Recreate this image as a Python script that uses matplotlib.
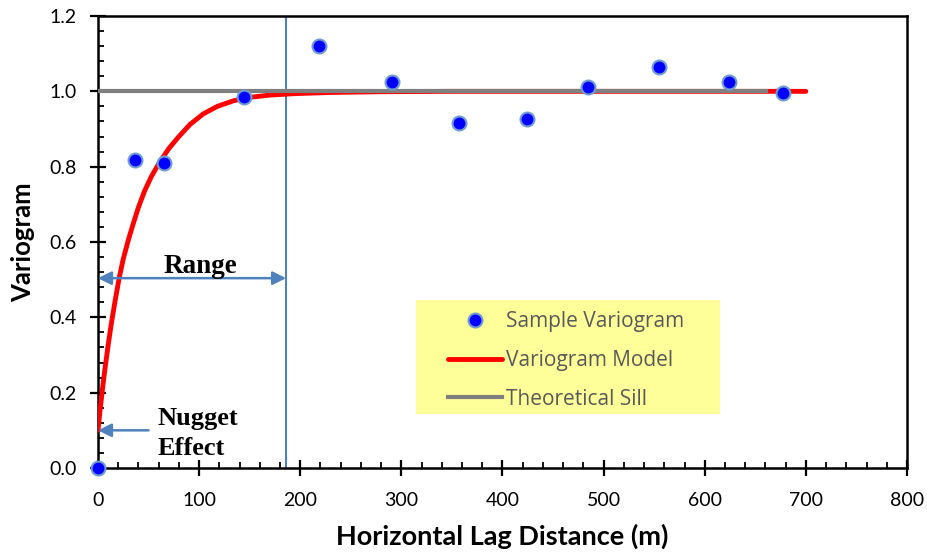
import numpy as np
import matplotlib
matplotlib.use("Agg")
import matplotlib.pyplot as plt
from matplotlib.patches import Rectangle
from matplotlib.ticker import MultipleLocator, FormatStrFormatter

# sample variogram
lag = [0, 36.6, 65.3, 144, 218.6, 290.8, 357, 424, 484.7, 555, 624, 677.5]
gamma = [0.0, 0.818, 0.810, 0.985, 1.120, 1.025, 0.916, 0.926, 1.011, 1.065, 1.025, 0.995]

# fitted model curve
model_x = [0, 2, 4, 7, 10, 13, 17, 21, 25, 30, 35, 40, 46, 53, 61, 70, 80, 91,
           104, 118, 134, 150, 170, 195, 230, 280, 350, 500, 700]
model_y = [0.100, 0.152, 0.200, 0.265, 0.325, 0.380, 0.445, 0.505, 0.555,
           0.605, 0.650, 0.692, 0.735, 0.775, 0.812, 0.848, 0.880, 0.912,
           0.940, 0.960, 0.975, 0.984, 0.990, 0.994, 0.997, 0.999, 1.0, 1.0, 1.0]

sill = 1.0
sill_end = 661
nugget = 0.10
range_x = 186

sans = ["Lato", "DejaVu Sans"]
serif = ["Liberation Serif", "DejaVu Serif"]
arrow_col = "#4f81bd"

fig = plt.figure(figsize=(9.27, 5.52), dpi=100)
ax = fig.add_axes([0.1057, 0.1522, 0.8727, 0.8188])

ax.plot(model_x, model_y, color="#ff0000", lw=3.5, solid_capstyle="round",
        solid_joinstyle="round", zorder=3, label="Variogram Model")
ax.plot([0, sill_end], [sill, sill], color="#808080", lw=3, zorder=4,
        label="Theoretical Sill")
ax.plot(lag, gamma, "o", color="#0000ff", mec="#6f9bd1", mew=1.5, ms=10,
        zorder=5, clip_on=False, label="Sample Variogram")

ax.axvline(range_x, color=arrow_col, lw=1.5, zorder=2)

# range arrow
ax.annotate("", xy=(0, 0.504), xytext=(range_x, 0.504),
            arrowprops=dict(arrowstyle="<|-|>", color=arrow_col, lw=1.8,
                            mutation_scale=20, shrinkA=0, shrinkB=0))
ax.text(101, 0.534, "Range", family=serif, fontweight="bold", fontsize=19.5,
        ha="center", va="center")

# nugget arrow
ax.annotate("", xy=(0, nugget), xytext=(50, nugget),
            arrowprops=dict(arrowstyle="-|>", color=arrow_col, lw=1.8,
                            mutation_scale=20, shrinkA=0, shrinkB=0))
ax.text(59, 0.132, "Nugget", family=serif, fontweight="bold",
        fontsize=19, ha="left", va="center")
ax.text(59, 0.052, "Effect", family=serif, fontweight="bold",
        fontsize=19, ha="left", va="center")

ax.set_xlim(0, 800)
ax.set_ylim(0, 1.2)
ax.xaxis.set_major_locator(MultipleLocator(100))
ax.xaxis.set_minor_locator(MultipleLocator(20))
ax.yaxis.set_major_locator(MultipleLocator(0.2))
ax.yaxis.set_minor_locator(MultipleLocator(0.04))
ax.yaxis.set_major_formatter(FormatStrFormatter("%.1f"))
ax.tick_params(which="major", direction="inout", length=11, width=1.6,
               labelsize=14)
ax.tick_params(axis="x", which="major", pad=12)
ax.tick_params(axis="y", which="major", pad=10)
ax.tick_params(which="minor", direction="in", length=4, width=1.3)
for lab in ax.get_xticklabels() + ax.get_yticklabels():
    lab.set_family(sans)
for s in ax.spines.values():
    s.set_linewidth(1.8)

ax.set_xlabel("Horizontal Lag Distance (m)", family=sans, fontweight="bold",
              fontsize=19.5, labelpad=10)
ax.set_ylabel("Variogram", family=sans, fontweight="bold", fontsize=18.5,
              labelpad=10)

# yellow legend box
ax.add_patch(Rectangle((0.393, 0.119), 0.376, 0.253, transform=ax.transAxes,
                       facecolor="#ffff99", edgecolor="none", zorder=1))
h, l = ax.get_legend_handles_labels()
order = [2, 0, 1]
leg = ax.legend([h[i] for i in order], [l[i] for i in order],
                loc="upper left", bbox_to_anchor=(0.4326, 0.347),
                frameon=False, borderpad=0, borderaxespad=0,
                labelspacing=0.85, handlelength=2.6, handletextpad=0.2,
                prop={"family": "Open Sans", "size": 15})
for t in leg.get_texts():
    t.set_color("#595959")

fig.savefig("out.png", dpi=100)
